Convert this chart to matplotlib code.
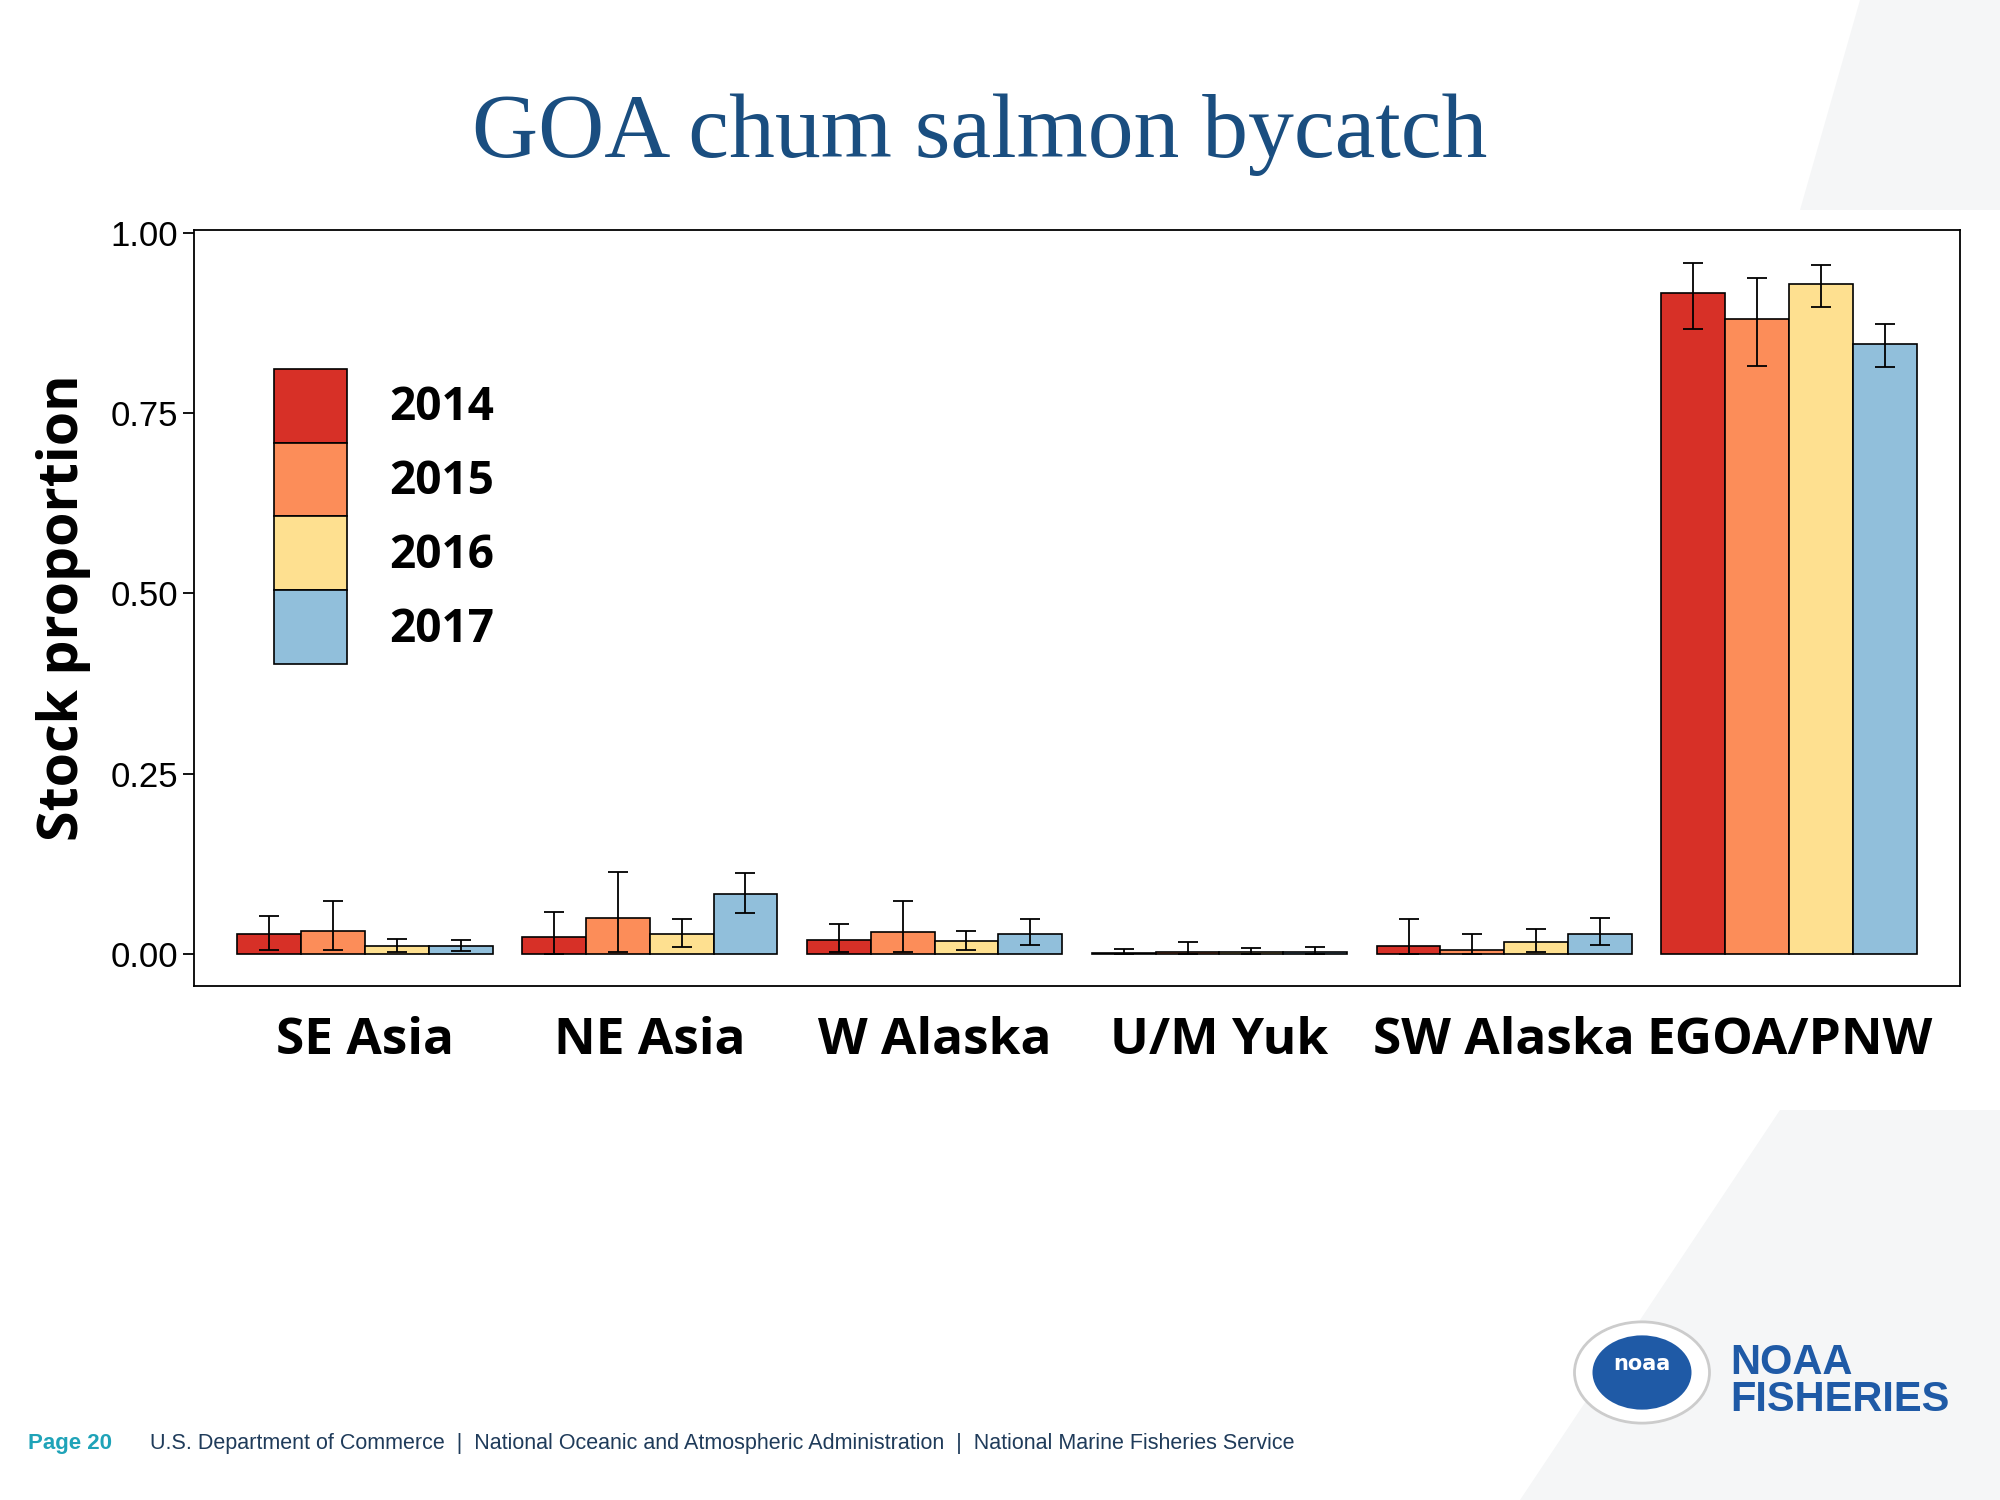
import matplotlib
matplotlib.use("Agg")
import matplotlib.pyplot as plt
import numpy as np
from matplotlib.patches import Polygon, Circle

categories = ["SE Asia", "NE Asia", "W Alaska", "U/M Yuk", "SW Alaska", "EGOA/PNW"]
years = ["2014", "2015", "2016", "2017"]
values = {
    "2014": [0.028, 0.023, 0.019, 0.001, 0.011, 0.917],
    "2015": [0.032, 0.050, 0.030, 0.002, 0.005, 0.881],
    "2016": [0.011, 0.027, 0.018, 0.002, 0.016, 0.929],
    "2017": [0.011, 0.083, 0.027, 0.002, 0.028, 0.846],
}
upper = {
    "2014": [0.053, 0.058, 0.042, 0.007, 0.048, 0.958],
    "2015": [0.073, 0.113, 0.073, 0.016, 0.028, 0.938],
    "2016": [0.021, 0.048, 0.032, 0.008, 0.035, 0.956],
    "2017": [0.019, 0.112, 0.048, 0.009, 0.049, 0.874],
}
lower = {
    "2014": [0.005, 0.000, 0.002, 0.000, 0.000, 0.867],
    "2015": [0.005, 0.002, 0.002, 0.000, 0.000, 0.816],
    "2016": [0.002, 0.009, 0.005, 0.000, 0.002, 0.897],
    "2017": [0.004, 0.057, 0.012, 0.000, 0.012, 0.814],
}
colors = ["#d73027", "#fc8d59", "#fee090", "#91bfdb"]

fig = plt.figure(figsize=(20, 15), dpi=100)
fig.patch.set_facecolor("white")

# decorative gray shapes
fig.patches.append(Polygon([[0.93, 1.0], [1.0, 1.0], [1.0, 0.86], [0.90, 0.86]], closed=True,
                           transform=fig.transFigure, facecolor="#f5f6f7", edgecolor="none", zorder=0))
fig.patches.append(Polygon([[0.76, 0.0], [1.0, 0.0], [1.0, 0.26], [0.89, 0.26]], closed=True,
                           transform=fig.transFigure, facecolor="#f5f6f7", edgecolor="none", zorder=0))

ax = fig.add_axes([0.097, 0.343, 0.883, 0.504])
x = np.arange(len(categories))
w = 0.224
for i, y in enumerate(years):
    v = np.array(values[y])
    pos = x + (i - 1.5) * w
    err = np.array([v - np.array(lower[y]), np.array(upper[y]) - v])
    ax.bar(pos, v, w, color=colors[i], edgecolor="black", linewidth=1.2, label=y,
           yerr=err, capsize=7, error_kw=dict(elinewidth=1.3, capthick=1.3, ecolor="black"))

ax.set_xlim(-0.6, 5.6)
ax.set_ylim(-0.044, 1.005)
ax.set_yticks([0, 0.25, 0.5, 0.75, 1.0])
ax.set_yticklabels(["0.00", "0.25", "0.50", "0.75", "1.00"], fontsize=25, fontfamily="Liberation Sans")
ax.set_xticks(x)
ax.set_xticklabels(categories, fontsize=37, fontweight="bold", fontfamily="Open Sans")
ax.tick_params(axis="x", length=0, pad=22)
ax.tick_params(axis="y", length=8, width=1.3)
for s in ax.spines.values():
    s.set_linewidth(1.3)
ax.set_ylabel("Stock proportion", fontsize=40, fontweight="bold", fontfamily="Open Sans", labelpad=14)

leg = ax.legend(loc="upper left", bbox_to_anchor=(0.035, 0.84), frameon=False,
                prop=dict(size=33, weight="bold", family="Open Sans"),
                handlelength=1.6, handleheight=2.1, labelspacing=0.0, handletextpad=0.9,
                borderaxespad=0.0)

fig.text(0.49, 0.91, "GOA chum salmon bycatch", ha="center", va="center",
         fontsize=66, color="#1a4e80", fontfamily="Liberation Serif")

fig.text(0.014, 0.038, "Page 20", fontsize=16, fontweight="bold", color="#1fa3b8",
         fontfamily="Liberation Sans", va="center")
fig.text(0.075, 0.038,
         "U.S. Department of Commerce  |  National Oceanic and Atmospheric Administration  |  National Marine Fisheries Service",
         fontsize=15.5, color="#1f3b5a", fontfamily="Liberation Sans", va="center")

# NOAA logo approximation
lx, ly, r = 0.821, 0.085, 0.045
fig.patches.append(Circle((lx, ly), r * 0.75, transform=fig.transFigure, facecolor="white",
                          edgecolor="#cccccc", linewidth=2, zorder=2))
fig.patches.append(Circle((lx, ly), r * 0.55, transform=fig.transFigure, facecolor="#1f5aa6",
                          edgecolor="none", zorder=3))
fig.text(lx, ly + 0.006, "noaa", ha="center", va="center", fontsize=15, fontweight="bold",
         color="white", zorder=4)
fig.text(0.865, 0.079, "NOAA\nFISHERIES", ha="left", va="center", fontsize=30, fontweight="bold",
         color="#1f5aa6", linespacing=0.9, fontfamily="Liberation Sans")

fig.savefig("out.png", dpi=100)
